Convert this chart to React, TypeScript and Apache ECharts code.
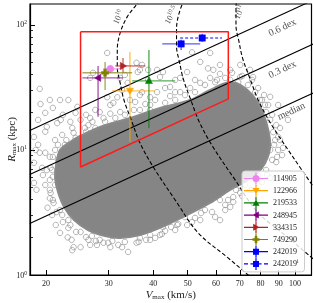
import React, { useEffect, useRef } from "react";
import * as echarts from "echarts";

const FONT = "'Liberation Serif', 'DejaVu Serif', serif";

// axes
const xTickValues = [20, 30, 40, 50, 60, 70, 80, 90, 100];
const yMajorTicks = [1, 10, 100];
const yMinorTicks = [2, 3, 4, 5, 6, 7, 8, 9, 20, 30, 40, 50, 60, 70, 80, 90];
const xLimits = [18.03, 111.3];
const yLimits = [1, 147];

// highlighted haloes
const haloNames = ["114905", "122966", "219533", "248945", "334315", "749290", "242019", "242019i"];
const haloColors = ["#ee82ee", "#ffa500", "#008000", "#800080", "#b22222", "#808000", "#0000ff", "#0000ff"];
const haloMarkers = ["circle", "down", "up", "left", "right", "plus", "square", "square"];
const haloDashed = [false, false, false, false, false, false, false, true];
const haloV = [30.3, 34.4, 38.9, 28.0, 32.9, 29.3, 47.9, 54.9];
const haloVlo = [28.9, 30.7, 34.9, 25.3, 31.3, 25.3, 42.4, 47.6];
const haloVhi = [32.9, 40.5, 46.1, 32.9, 38.0, 34.9, 54.2, 62.4];
const haloR = [44.5, 29.7, 35.7, 37.7, 47.0, 41.4, 70.5, 78.6];
const haloRlo = [41.4, 11.6, 15.0, 18.4, 41.7, 30.2, 63.1, 73.2];
const haloRhi = [47.0, 60.8, 63.1, 47.0, 54.4, 50.6, 76.0, 86.5];

// reference lines (V, R)
const medianLine = [[18, 2.58], [115, 29.3]];
const dex03Line = [[18, 6.37], [115, 72.3]];
const dex06Line = [[18, 14.32], [115, 162.5]];

// constant-mass curves (V, R)
const mass10 = [[37.5, 174], [36.0, 147], [33.8, 116], [32.3, 86.3], [31.7, 63.1], [31.7, 46.1], [32.3, 34.4], [33.1, 25.1], [34.7, 17.4], [36.7, 11.4], [40.0, 7.31], [46.1, 3.98], [53.5, 2.17], [64.9, 1.37], [73.9, 1.0], [79.8, 0.83]];
const mass105 = [[55.0, 255], [52.8, 216], [49.6, 170], [47.4, 127], [46.5, 92.6], [46.5, 67.7], [47.4, 50.5], [48.6, 36.8], [50.9, 25.5], [53.9, 16.7], [58.7, 10.7], [67.7, 5.84], [78.5, 3.19], [95.3, 2.01], [108.5, 1.47], [117, 1.22]];
const mass11 = [[80.8, 375], [77.5, 317], [72.8, 250], [69.6, 186], [68.3, 136], [68.3, 99.3], [69.6, 74.1], [71.3, 54.1], [74.7, 37.5], [79.1, 24.6], [86.2, 15.7], [99.3, 8.57], [115, 4.67]];

// selection region
const selectionBox = [[25, 88], [65, 88], [65, 25.6], [25, 7.31], [25, 88]];

// annotations
const annotTexts = ["10{sup|10}", "10{sup|10.5}", "10{sup|11}", "0.6 dex", "0.3 dex", "median"];
const annotV = [31.9, 44.9, 69.7, 92.0, 92.0, 97.5];
const annotR = [115.9, 120, 127, 96.4, 44.5, 20.6];
const annotRot = [64, 62, 66, 25, 25, 25];

// dense core of the halo population (V, R outline)
const denseV = [21.34, 21.89, 23.35, 24.92, 28.36, 34.43, 41.81, 50.76, 57.77, 65.75, 72.44, 78.78, 83.5, 85.15, 80.85, 73.86, 65.75, 57.77, 49.14, 41.81, 36.73, 32.28, 29.29, 26.24, 23.97, 22.47, 21.61, 21.2];
const denseR = [7.59, 10.0, 11.59, 12.94, 15.28, 18.03, 21.68, 25.12, 30.2, 34.99, 31.33, 23.77, 15.85, 10.38, 7.18, 5.75, 4.79, 3.77, 2.96, 2.38, 2.09, 1.98, 2.05, 2.29, 2.75, 3.5, 4.61, 5.97];

// individual haloes outside the dense core (V, R)
const cloud = [
  [19.2, 30.8], [29.7, 59.7], [20.5, 25.1], [20.9, 21.7], [21.9, 25.1], [23.1, 25.1], [24.5, 22.1], [19.3, 23.3],
  [19.9, 19.8], [22.3, 19.1], [22.0, 17.4], [18.5, 12.7], [20.1, 15.3], [21.5, 16.4], [19.9, 14.0], [19.2, 9.5],
  [20.5, 8.8], [18.5, 7.9], [20.1, 6.9], [20.9, 6.1], [18.5, 5.45], [19.6, 6.3], [20.5, 4.1], [20.2, 3.45],
  [20.5, 4.8], [19.9, 9.5], [19.0, 11.0], [23.4, 16.8], [25.9, 19.1], [26.6, 18.0], [27.5, 20.9], [25.0, 17.4],
  [23.7, 15.0], [26.3, 15.8], [21.2, 12.0], [22.2, 13.2], [19.5, 7.2], [18.8, 4.8], [19.9, 5.25], [20.8, 3.02],
  [21.3, 2.51], [21.9, 2.17], [23.0, 2.0], [23.6, 1.91], [23.9, 1.67], [23.7, 1.58], [25.0, 1.67], [26.3, 1.91],
  [26.6, 1.74], [27.8, 1.74], [29.0, 1.81], [30.3, 1.67], [34.0, 1.53], [35.9, 1.81], [38.2, 1.91], [31.9, 1.74],
  [40.5, 1.98], [41.8, 2.09], [44.9, 2.42], [46.7, 2.51], [42.6, 2.42], [49.1, 2.91], [51.4, 2.65], [54.5, 3.13],
  [59.7, 2.91], [59.0, 4.2], [61.6, 2.75], [63.7, 3.31], [65.8, 3.5], [67.1, 4.2], [70.2, 4.53], [74.8, 4.79],
  [78.3, 5.45], [83.5, 6.31], [81.4, 7.9], [85.2, 10.0], [89.1, 8.8], [92.0, 9.1], [88.0, 12.0], [90.8, 15.0],
  [92.6, 10.4], [85.2, 26.6], [82.4, 22.9], [79.8, 25.1], [76.3, 38.3], [74.8, 43.7], [70.2, 38.3], [65.8, 36.3],
  [60.4, 36.3], [51.4, 60.4], [57.8, 59.7], [61.6, 47.9], [49.8, 42.0], [57.0, 44.9], [59.0, 43.7], [54.2, 50.6],
  [47.6, 37.7], [44.6, 31.9], [46.1, 29.0], [41.0, 29.0], [37.2, 29.0], [35.6, 24.2], [31.7, 26.4], [32.3, 37.7],
  [33.3, 39.8], [38.7, 36.3], [41.8, 38.3], [42.6, 42.0], [37.2, 47.9], [35.9, 49.8], [36.7, 43.7], [38.7, 43.7],
  [27.1, 41.4], [26.6, 37.7], [30.9, 23.8], [29.7, 26.4], [32.7, 30.2], [33.9, 34.4], [36.2, 42.0], [41.0, 43.7],
  [39.2, 26.4], [39.2, 20.9], [22.6, 11.0], [24.2, 12.5], [25.9, 14.0], [27.5, 15.0], [29.3, 16.8], [31.3, 18.0],
  [33.3, 19.1], [36.7, 20.9], [39.2, 22.9], [43.2, 23.8], [46.1, 25.1], [49.1, 27.5], [52.4, 29.0], [55.9, 33.1],
  [59.7, 34.8], [63.7, 37.7], [69.3, 34.8], [73.8, 33.1], [77.3, 29.0], [80.8, 25.1], [83.0, 20.1], [85.2, 17.4],
  [86.9, 13.9], [87.4, 11.0], [86.3, 8.32], [83.0, 6.92], [78.8, 6.2], [72.4, 5.25], [68.3, 4.79], [22.2, 3.02],
  [23.4, 2.51], [25.0, 2.21], [26.9, 2.05], [28.3, 1.91], [30.7, 1.87], [33.3, 1.84], [36.7, 1.98], [39.2, 2.09],
  [43.2, 2.25], [47.0, 2.56], [52.4, 2.86], [55.9, 3.31], [61.6, 3.98], [70.2, 5.15], [21.2, 5.25], [20.9, 3.98],
  [21.6, 8.32], [20.8, 6.92], [21.9, 3.31], [23.1, 2.75], [64.9, 3.98], [77.3, 6.92], [90.8, 12.0], [95.6, 17.4],
  [89.7, 22.9], [70.2, 47.9], [65.8, 43.7], [52.4, 36.3], [46.1, 36.3], [43.2, 31.3], [34.4, 25.1], [36.7, 27.5],
  [28.3, 20.1], [30.3, 22.9], [24.2, 19.8], [18.7, 10.0], [19.0, 17.4],
  [21.6, 11.0], [22.8, 12.0], [23.9, 13.7], [25.7, 15.0], [27.0, 16.8], [29.0, 18.0], [30.3, 19.5], [32.3, 20.1],
  [35.3, 20.9], [38.0, 23.3], [40.5, 25.1], [44.6, 27.0], [47.6, 29.0], [50.8, 31.3], [54.2, 34.4], [57.8, 37.7],
  [61.6, 40.6], [66.6, 41.4], [71.1, 39.1], [75.8, 36.3], [78.8, 31.3], [81.9, 27.5], [84.1, 22.9], [86.3, 19.1],
  [88.6, 15.8], [89.7, 12.7], [89.7, 10.0], [88.6, 8.0], [85.2, 5.97], [80.8, 5.54], [75.8, 4.79], [71.1, 4.28],
  [67.1, 3.84], [63.7, 3.63], [58.5, 3.19], [54.2, 2.75], [49.8, 2.51], [46.1, 2.29], [42.3, 2.13], [39.2, 1.91],
  [36.4, 1.84], [32.7, 1.67], [29.9, 1.81], [27.6, 1.87], [25.9, 2.01], [24.3, 2.21], [23.1, 2.38], [22.3, 2.65],
  [21.4, 3.19], [21.0, 3.77], [20.6, 4.53], [20.5, 5.75], [20.6, 7.2], [20.9, 8.8], [21.2, 10.0]
];

const L = (v: number) => Math.log10(v);
const toLog = (pts: number[][]) => pts.map((p) => [L(p[0]), L(p[1])]);

const BAR = "M0 5.4h24v1.2H0z M11.4 0h1.2v12h-1.2z ";
const BAR_DASHED = "M0 5.4h4v1.2H0z M6.5 5.4h4v1.2h-4z M13.5 5.4h4v1.2h-4z M20 5.4h4v1.2h-4z M11.4 0h1.2v3h-1.2z M11.4 9h1.2v3h-1.2z ";
const ICON_MARK: Record<string, string> = {
  circle: "M15.5 6A3.5 3.5 0 1 1 8.5 6A3.5 3.5 0 1 1 15.5 6z",
  down: "M8.5 3.2L15.5 3.2L12 9.5z",
  up: "M12 2.5L15.5 8.8L8.5 8.8z",
  left: "M14.8 2.5L14.8 9.5L8.5 6z",
  right: "M9.2 2.5L15.5 6L9.2 9.5z",
  plus: "M10.7 2.5h2.6v2.2h2.2v2.6h-2.2v2.2h-2.6v-2.2h-2.2v-2.6h2.2z",
  square: "M9 3h6v6H9z",
};

function markerShape(kind: string, cx: number, cy: number, color: string) {
  const s = 3.6;
  const style = { fill: color, stroke: color, lineWidth: 0.5 };
  switch (kind) {
    case "circle":
      return { type: "circle", shape: { cx, cy, r: s }, style };
    case "down":
      return { type: "polygon", shape: { points: [[cx - s, cy - s * 0.75], [cx + s, cy - s * 0.75], [cx, cy + s]] }, style };
    case "up":
      return { type: "polygon", shape: { points: [[cx - s, cy + s * 0.75], [cx + s, cy + s * 0.75], [cx, cy - s]] }, style };
    case "left":
      return { type: "polygon", shape: { points: [[cx + s * 0.75, cy - s], [cx + s * 0.75, cy + s], [cx - s, cy]] }, style };
    case "right":
      return { type: "polygon", shape: { points: [[cx - s * 0.75, cy - s], [cx - s * 0.75, cy + s], [cx + s, cy]] }, style };
    case "plus": {
      const w = 1.4;
      return {
        type: "polygon",
        shape: {
          points: [[cx - w, cy - s], [cx + w, cy - s], [cx + w, cy - w], [cx + s, cy - w], [cx + s, cy + w], [cx + w, cy + w],
            [cx + w, cy + s], [cx - w, cy + s], [cx - w, cy + w], [cx - s, cy + w], [cx - s, cy - w], [cx - w, cy - w]],
        },
        style,
      };
    }
    default:
      return { type: "rect", shape: { x: cx - 3.2, y: cy - 3.2, width: 6.4, height: 6.4 }, style };
  }
}

export default function App() {
  const ref = useRef<HTMLDivElement>(null);
  useEffect(() => {
    if (!ref.current) return;
    const chart = echarts.init(ref.current, undefined, { renderer: "svg" });

    const lineSeries = (data: number[][], color: string, width: number, dashed: boolean, smooth: boolean) => ({
      type: "line",
      data: toLog(data),
      symbol: "none",
      silent: true,
      smooth: smooth ? 0.35 : false,
      lineStyle: { color, width, type: dashed ? [4, 2.2] : "solid" },
      z: 3,
    });

    const haloSeries = haloNames.map((name, i) => ({
      type: "custom",
      name,
      coordinateSystem: "cartesian2d",
      itemStyle: { color: haloColors[i] },
      encode: { x: 0, y: 1 },
      z: 5,
      data: [[L(haloV[i]), L(haloR[i]), L(haloVlo[i]), L(haloVhi[i]), L(haloRlo[i]), L(haloRhi[i])]],
      renderItem: (params: any, api: any) => {
        const c = api.coord([api.value(0), api.value(1)]);
        const xl = api.coord([api.value(2), api.value(1)]);
        const xh = api.coord([api.value(3), api.value(1)]);
        const yl = api.coord([api.value(0), api.value(4)]);
        const yh = api.coord([api.value(0), api.value(5)]);
        const barStyle: any = { stroke: haloColors[i], lineWidth: 1.4, opacity: 0.65, lineDash: haloDashed[i] ? [3, 2] : null };
        return {
          type: "group",
          children: [
            { type: "line", shape: { x1: xl[0], y1: xl[1], x2: xh[0], y2: xh[1] }, style: barStyle },
            { type: "line", shape: { x1: yl[0], y1: yl[1], x2: yh[0], y2: yh[1] }, style: barStyle },
            markerShape(haloMarkers[i], c[0], c[1], haloColors[i]),
          ],
        };
      },
    }));

    const option: any = {
      animation: false,
      grid: {
        left: 30, right: 2.5, top: 4, bottom: 28,
        containLabel: false, outerBoundsMode: "none",
        show: true, borderColor: "#000", borderWidth: 1.2,
      },
      xAxis: {
        type: "value",
        min: L(xLimits[0]),
        max: L(xLimits[1]),
        axisLine: { lineStyle: { color: "#000", width: 1.2 } },
        axisTick: { inside: true, length: 5, customValues: xTickValues.map(L), lineStyle: { color: "#000", width: 1 } },
        axisLabel: {
          customValues: xTickValues.map(L),
          formatter: (v: number) => String(Math.round(Math.pow(10, v))),
          fontSize: 8,
          color: "#222",
          fontFamily: FONT,
          margin: 4,
        },
        splitLine: { show: false },
        name: "{it|V}{sub|max} (km/s)",
        nameLocation: "middle",
        nameMoveOverlap: false,
        nameGap: 12,
        nameTextStyle: {
          fontSize: 11,
          fontFamily: FONT,
          color: "#222",
          rich: {
            it: { fontStyle: "italic", fontSize: 11, fontFamily: FONT, color: "#222" },
            sub: { fontSize: 7, fontFamily: FONT, color: "#222", padding: [6, 0, 0, 0] },
          },
        },
      },
      yAxis: [
        {
          type: "value",
          min: L(yLimits[0]),
          max: L(yLimits[1]),
          axisLine: { lineStyle: { color: "#000", width: 1.2 } },
          axisTick: { inside: true, length: 5, customValues: yMajorTicks.map(L), lineStyle: { color: "#000", width: 1 } },
          axisLabel: {
            customValues: yMajorTicks.map(L),
            formatter: (v: number) => "10{sup|" + Math.round(v) + "}",
            fontSize: 8,
            color: "#222",
            fontFamily: FONT,
            margin: 3,
            rich: { sup: { fontSize: 5.5, fontFamily: FONT, color: "#222", padding: [0, 0, 5, 0] } },
          },
          splitLine: { show: false },
          name: "{it|R}{sub|max} (kpc)",
          nameLocation: "middle",
          nameMoveOverlap: false,
          nameRotate: 90,
          nameGap: 13,
          nameTextStyle: {
            fontSize: 11,
            fontFamily: FONT,
            color: "#222",
            rich: {
              it: { fontStyle: "italic", fontSize: 11, fontFamily: FONT, color: "#222" },
              sub: { fontSize: 7, fontFamily: FONT, color: "#222", padding: [6, 0, 0, 0] },
            },
          },
        },
        {
          type: "value",
          position: "left",
          min: L(yLimits[0]),
          max: L(yLimits[1]),
          axisLine: { show: false },
          axisTick: { inside: true, length: 3, customValues: yMinorTicks.map(L), lineStyle: { color: "#000", width: 0.8 } },
          axisLabel: { show: false },
          splitLine: { show: false },
        },
      ],
      legend: {
        orient: "vertical",
        left: 242,
        top: 171,
        itemWidth: 24,
        itemHeight: 12,
        itemGap: 0.2,
        padding: [1.5, 6, 2, 2],
        backgroundColor: "rgba(255,255,255,0.82)",
        borderColor: "#cccccc",
        borderWidth: 1,
        borderRadius: 3,
        textStyle: {
          fontSize: 8,
          fontFamily: FONT,
          color: "#222",
          rich: { sup: { fontSize: 5.5, fontFamily: FONT, color: "#222", padding: [0, 0, 5, 0] } },
        },
        formatter: (name: string) => (name === "242019i" ? "242019{sup|i}" : name),
        data: haloNames.map((name, i) => ({
          name,
          icon: "path://" + (haloDashed[i] ? BAR_DASHED : BAR) + ICON_MARK[haloMarkers[i]],
          itemStyle: { color: haloColors[i] },
        })),
      },
      series: [
        {
          type: "custom",
          coordinateSystem: "cartesian2d",
          silent: true,
          z: 1,
          data: [[L(denseV[0]), L(denseR[0])]],
          renderItem: (params: any, api: any) => {
            const pts = denseV.map((v, k) => api.coord([L(v), L(denseR[k])]));
            return { type: "polygon", shape: { points: pts, smooth: 0.35 }, style: { fill: "#858585", stroke: "#8a8a8a", lineWidth: 2 } };
          },
        },
        {
          type: "scatter",
          silent: true,
          z: 2,
          data: toLog(cloud),
          symbol: "circle",
          symbolSize: 5.5,
          itemStyle: { color: "rgba(0,0,0,0)", borderColor: "#8a8a8a", borderWidth: 0.8 },
        },
        lineSeries(medianLine, "#000", 1.1, false, false),
        lineSeries(dex03Line, "#000", 1.1, false, false),
        lineSeries(dex06Line, "#000", 1.1, false, false),
        lineSeries(mass10, "#000", 1.1, true, true),
        lineSeries(mass105, "#000", 1.1, true, true),
        lineSeries(mass11, "#000", 1.1, true, true),
        lineSeries(selectionBox, "#ff1a1a", 1.5, false, false),
        {
          type: "scatter",
          silent: true,
          z: 4,
          symbolSize: 0,
          data: annotTexts.map((t, k) => ({
            value: [L(annotV[k]), L(annotR[k])],
            label: { formatter: t, rotate: annotRot[k], fontSize: k < 3 ? 8.5 : 10 },
          })),
          label: {
            show: true,
            position: "inside",
            color: "#222",
            fontFamily: FONT,
            rich: { sup: { fontSize: 6, fontFamily: FONT, color: "#222", padding: [0, 0, 5, 0] } },
          },
        },
        ...haloSeries,
      ],
    };
    chart.setOption(option);
    return () => chart.dispose();
  }, []);
  return <div ref={ref} style={{ position: "fixed", left: 0, top: 0, width: 314, height: 303 }} />;
}
